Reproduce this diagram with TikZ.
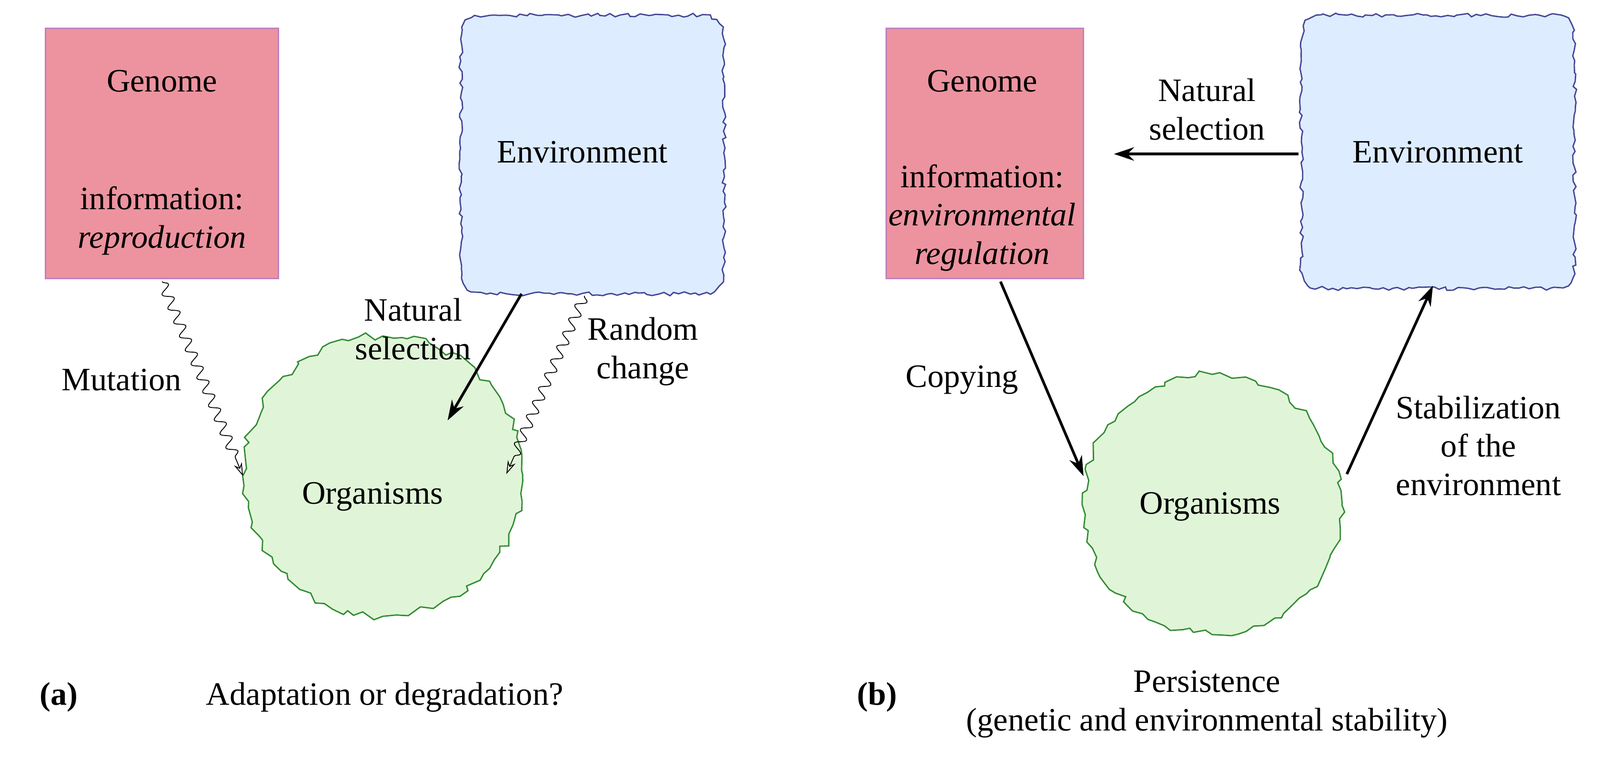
\documentclass[tikz,border=0pt]{standalone}
\usepackage{fontspec}
\setmainfont{Liberation Serif}
\usetikzlibrary{decorations.pathmorphing,arrows.meta}
\begin{document}
\begin{tikzpicture}[x=0.02126cm,y=-0.02126cm,
  txt/.style={font=\fontsize{19.5}{23}\selectfont,align=center,inner sep=0},
  genome/.style={draw=violet!50,fill={rgb,255:red,236;green,147;blue,159},line width=0.8pt},
  env/.style={draw={rgb,255:red,70;green,70;blue,150},fill={rgb,255:red,221;green,236;blue,255},line width=0.8pt,
    decorate,decoration={random steps,segment length=3pt,amplitude=1.2pt}},
  org/.style={draw={rgb,255:red,50;green,140;blue,50},fill={rgb,255:red,224;green,245;blue,216},line width=0.8pt,
    decorate,decoration={random steps,segment length=5pt,amplitude=2.5pt}},
  arr/.style={-{Stealth[length=12pt,width=8pt]},line width=1.6pt},
  wav/.style={-{Stealth[length=8pt,width=5pt,open]},line width=0.5pt,decorate,
    decoration={snake,segment length=9pt,amplitude=3pt,post length=8pt}}]
\useasboundingbox (0,0) rectangle (1580,751);
% left
\draw[genome] (45,28) rectangle (275,275);
\node[txt] (g1) at (160,80) {Genome};
\node[txt] (g1i) at (160,218) {information:\\\textit{reproduction}};
\coordinate (g1b) at (160,278);
\path[env] (500,15) -- (670,15) .. controls (715,15) .. (715,60) -- (715,245) .. controls (715,290) .. (670,290)
  -- (500,290) .. controls (455,290) .. (455,245) -- (455,60) .. controls (455,15) .. (500,15) -- cycle;
\node[txt] (e1) at (575,150) {Environment};
\path[org] (378,470) circle (138);
\node[txt] (o1) at (368,490) {Organisms};
\coordinate (e1b) at (515,290);
\coordinate (e1c) at (577,292);
\coordinate (o1n) at (442,415);
\coordinate (o1l) at (240,470);
\coordinate (o1r) at (500,468);
\draw[wav] (g1b) -- (o1l);
\draw[arr] (e1b) -- (o1n);
\draw[wav] (e1c) -- (o1r);
\node[txt] (lm) at (120,375) {Mutation};
\node[txt] (ln) at (408,325) {Natural\\selection};
\node[txt] (lr) at (635,347) {Random\\change};
\node[txt,font=\fontsize{19.5}{23}\selectfont\bfseries] (la) at (58,688) {(a)};
\node[txt] (ta) at (380,688) {Adaptation or degradation?};
% right
\draw[genome] (875,28) rectangle (1070,275);
\node[txt] (g2) at (970,80) {Genome};
\node[txt] (g2i) at (970,215) {information:\\\textit{environmental}\\\textit{regulation}};
\path[env] (1330,15) -- (1510,15) .. controls (1555,15) .. (1555,60) -- (1555,240) .. controls (1555,285) .. (1510,285)
  -- (1330,285) .. controls (1285,285) .. (1285,240) -- (1285,60) .. controls (1285,15) .. (1330,15) -- cycle;
\node[txt] (e2) at (1420,150) {Environment};
\path[org] (1197,498) circle (128);
\node[txt] (o2) at (1195,500) {Organisms};
\coordinate (e2l) at (1282,152);
\coordinate (g2r) at (1100,152);
\coordinate (g2b) at (988,278);
\coordinate (o2t) at (1070,470);
\coordinate (o2r) at (1330,468);
\coordinate (e2b) at (1415,282);
\draw[arr] (e2l) -- (g2r);
\draw[arr] (g2b) -- (o2t);
\draw[arr] (o2r) -- (e2b);
\node[txt] (ln2) at (1192,108) {Natural\\selection};
\node[txt] (lc) at (950,375) {Copying};
\node[txt] (ls) at (1460,440) {Stabilization\\of the\\environment};
\node[txt,font=\fontsize{19.5}{23}\selectfont\bfseries] (lb) at (866,688) {(b)};
\node[txt] (tb) at (1192,695) {Persistence\\(genetic and environmental stability)};
\end{tikzpicture}
\end{document}
